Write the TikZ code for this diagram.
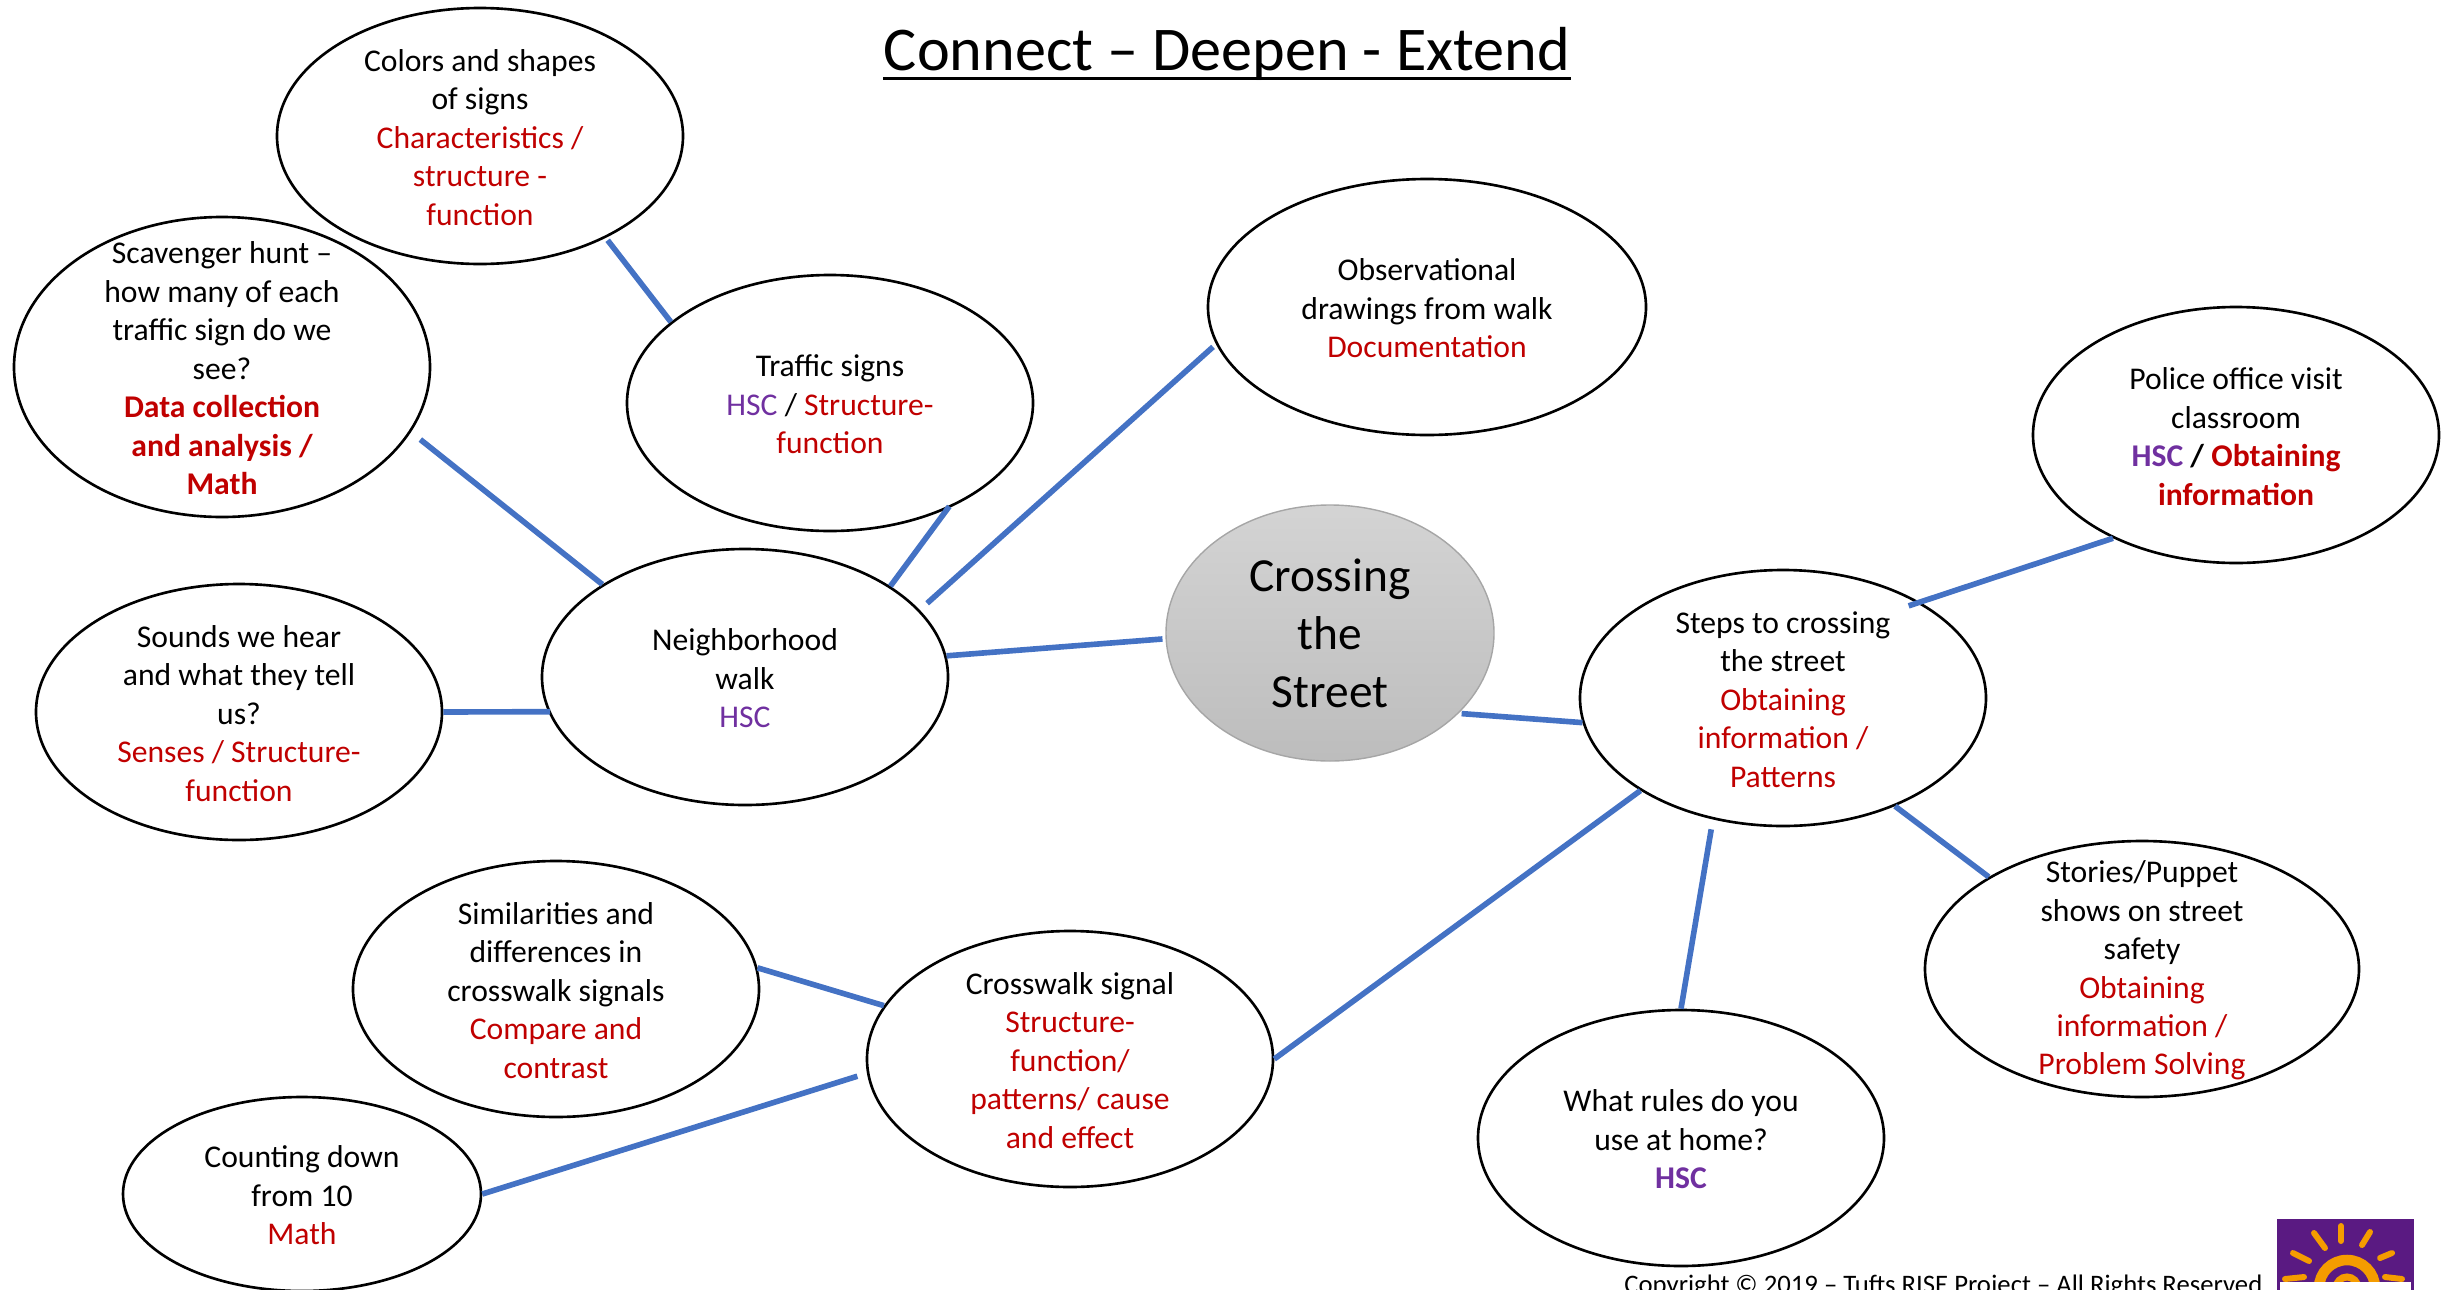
\documentclass[tikz,border=0pt]{standalone}
\usepackage{fontspec}
\setmainfont{Carlito}
\usetikzlibrary{shapes.geometric}
\definecolor{linkblue}{HTML}{4472C4}
\definecolor{conceptred}{HTML}{C00000}
\definecolor{hscpurple}{HTML}{7030A0}
\definecolor{logopurple}{HTML}{5A1A82}
\definecolor{logoorange}{HTML}{F59C00}
\newcommand{\rd}[1]{\textcolor{conceptred}{#1}}
\newcommand{\pu}[1]{\textcolor{hscpurple}{#1}}
\tikzset{
  bubble/.style={ellipse, draw, line width=.75pt, inner sep=0pt, minimum width=4.06cm, minimum height=2.56cm},
  bubbletext/.style={inner sep=0pt, align=center, yshift=-.015cm, font=\fontsize{9}{10.95}\selectfont},
  link/.style={linkblue, line width=1.6pt},
  sunray/.style={logoorange, line width=1.7pt, line cap=round}
}
\begin{document}
\begin{tikzpicture}
\useasboundingbox (0,0) rectangle (24.5,-12.9);

% Title
\node[font=\fontsize{17.7}{22}\selectfont, inner sep=0pt] (title) at (12.27,-.54) {Connect -- Deepen - Extend};
\draw[line width=.9pt] ([yshift=.03cm]title.south west) -- ([yshift=.03cm]title.south east);

% Centre
\node[ellipse, draw=black!35, line width=.4pt, inner sep=0pt, minimum width=3.28cm, minimum height=2.56cm,
      top color=black!17, bottom color=black!26, align=center, font=\fontsize{13.5}{16.5}\selectfont] (crossing) at (13.30,-6.33) {};
\node[inner sep=0pt, align=center, font=\fontsize{13.5}{16.5}\selectfont] (crossingtext) at (crossing.center) {Crossing\\the\\Street};

% Left branch
\node[bubble, label={[name=neighborhoodtext, bubbletext]center:{Neighborhood\\walk\\\pu{HSC}}}] (neighborhood) at (7.45,-6.77) {};
\node[bubble, label={[name=colorstext, bubbletext]center:{Colors and shapes\\of signs\\\rd{Characteristics /}\\\rd{structure -}\\\rd{function}}}] (colors) at (4.80,-1.36) {};
\node[bubble, minimum width=4.16cm, minimum height=3.00cm, label={[name=scavengertext, bubbletext]center:{Scavenger hunt --\\how many of each\\traffic sign do we\\see?\\\rd{\bfseries Data collection}\\\rd{\bfseries and analysis /}\\\rd{\bfseries Math}}}] (scavenger) at (2.22,-3.67) {};
\node[bubble, label={[name=signstext, bubbletext]center:{Traffic signs\\\pu{HSC} / \rd{Structure-}\\\rd{function}}}] (signs) at (8.30,-4.03) {};
\node[bubble, minimum width=4.38cm, label={[name=drawingstext, bubbletext]center:{Observational\\drawings from walk\\\rd{Documentation}}}] (drawings) at (14.27,-3.07) {};
\node[bubble, label={[name=soundstext, bubbletext]center:{Sounds we hear\\and what they tell\\us?\\\rd{Senses / Structure-}\\\rd{function}}}] (sounds) at (2.39,-7.12) {};

% Right branch
\node[bubble, label={[name=stepstext, bubbletext]center:{Steps to crossing\\the street\\\rd{Obtaining}\\\rd{information /}\\\rd{Patterns}}}] (steps) at (17.83,-6.98) {};
\node[bubble, label={[name=policetext, bubbletext]center:{Police office visit\\classroom\\\pu{\bfseries HSC} \textbf{/} \rd{\bfseries Obtaining}\\\rd{\bfseries information}}}] (police) at (22.36,-4.35) {};
\node[bubble, minimum width=4.34cm, label={[name=storiestext, bubbletext]center:{Stories/Puppet\\shows on street\\safety\\\rd{Obtaining}\\\rd{information /}\\\rd{Problem Solving}}}] (stories) at (21.42,-9.69) {};
\node[bubble, label={[name=rulestext, bubbletext]center:{What rules do you\\use at home?\\\pu{\bfseries HSC}}}] (rules) at (16.81,-11.38) {};

% Bottom branch
\node[bubble, label={[name=crosswalktext, bubbletext]center:{Crosswalk signal\\\rd{Structure-}\\\rd{function/}\\\rd{patterns/ cause}\\\rd{and effect}}}] (crosswalk) at (10.70,-10.59) {};
\node[bubble, label={[name=similaritiestext, bubbletext]center:{Similarities and\\differences in\\crosswalk signals\\\rd{Compare and}\\\rd{contrast}}}] (similarities) at (5.56,-9.89) {};
\node[bubble, minimum width=3.58cm, minimum height=1.94cm, label={[name=countingtext, bubbletext]center:{Counting down\\from 10\\\rd{Math}}}] (counting) at (3.02,-11.94) {};

% Connections
\draw[link, shorten <=.03cm] (colors.-39) -- (signs.153);
\draw[link, shorten <=.12cm] (scavenger.-19) -- (neighborhood.147);
\draw[link, shorten <=-.03cm] (signs.-42) -- (neighborhood.32);
\draw[link, shorten <=.04cm, shorten >=.1cm] (drawings.190) -- (neighborhood.21);
\draw[link, shorten >=.03cm] (neighborhood.6) -- (crossing.182);
\draw[link, shorten >=-.02cm] (sounds.0) -- (neighborhood.190);
\draw[link, shorten <=.03cm] (crossing.-32) -- (steps.187);
\draw[link, shorten <=-.12cm] (steps.35) -- (police.220);
\draw[link] (steps.-44) -- (stories.149);
\draw[link, shorten <=.1cm] (steps.240) -- (rules.90);
\draw[link] (steps.213) -- (crosswalk.0);
\draw[link] (similarities.6) -- (crosswalk.164);
\draw[link, shorten >=.1cm] (counting.0) -- (crosswalk.184);

% Footer
\node[anchor=base east, inner sep=0pt, font=\fontsize{7.6}{10}\selectfont] (copyright) at (22.63,-12.93) {Copyright © 2019 -- Tufts RISE Project -- All Rights Reserved};

% Logo
\fill[logopurple] (22.77,-12.19) rectangle (24.14,-12.9);
\draw[logoorange, line width=3pt] (23.47,-12.88) circle (.28);
\draw[logoorange, line width=2pt] (23.47,-12.88) circle (.11);
\draw[sunray] (23.41,-12.26) -- (23.41,-12.41);
\draw[sunray] (23.14,-12.33) -- (23.25,-12.48);
\draw[sunray] (23.70,-12.32) -- (23.62,-12.45);
\draw[sunray] (22.93,-12.53) -- (23.09,-12.61);
\draw[sunray] (23.92,-12.53) -- (23.80,-12.58);
\draw[sunray] (22.85,-12.79) -- (23.04,-12.77);
\draw[sunray] (23.85,-12.77) -- (24.02,-12.79);
\fill[white] (22.80,-12.82) rectangle (24.11,-12.9);
\end{tikzpicture}
\end{document}
